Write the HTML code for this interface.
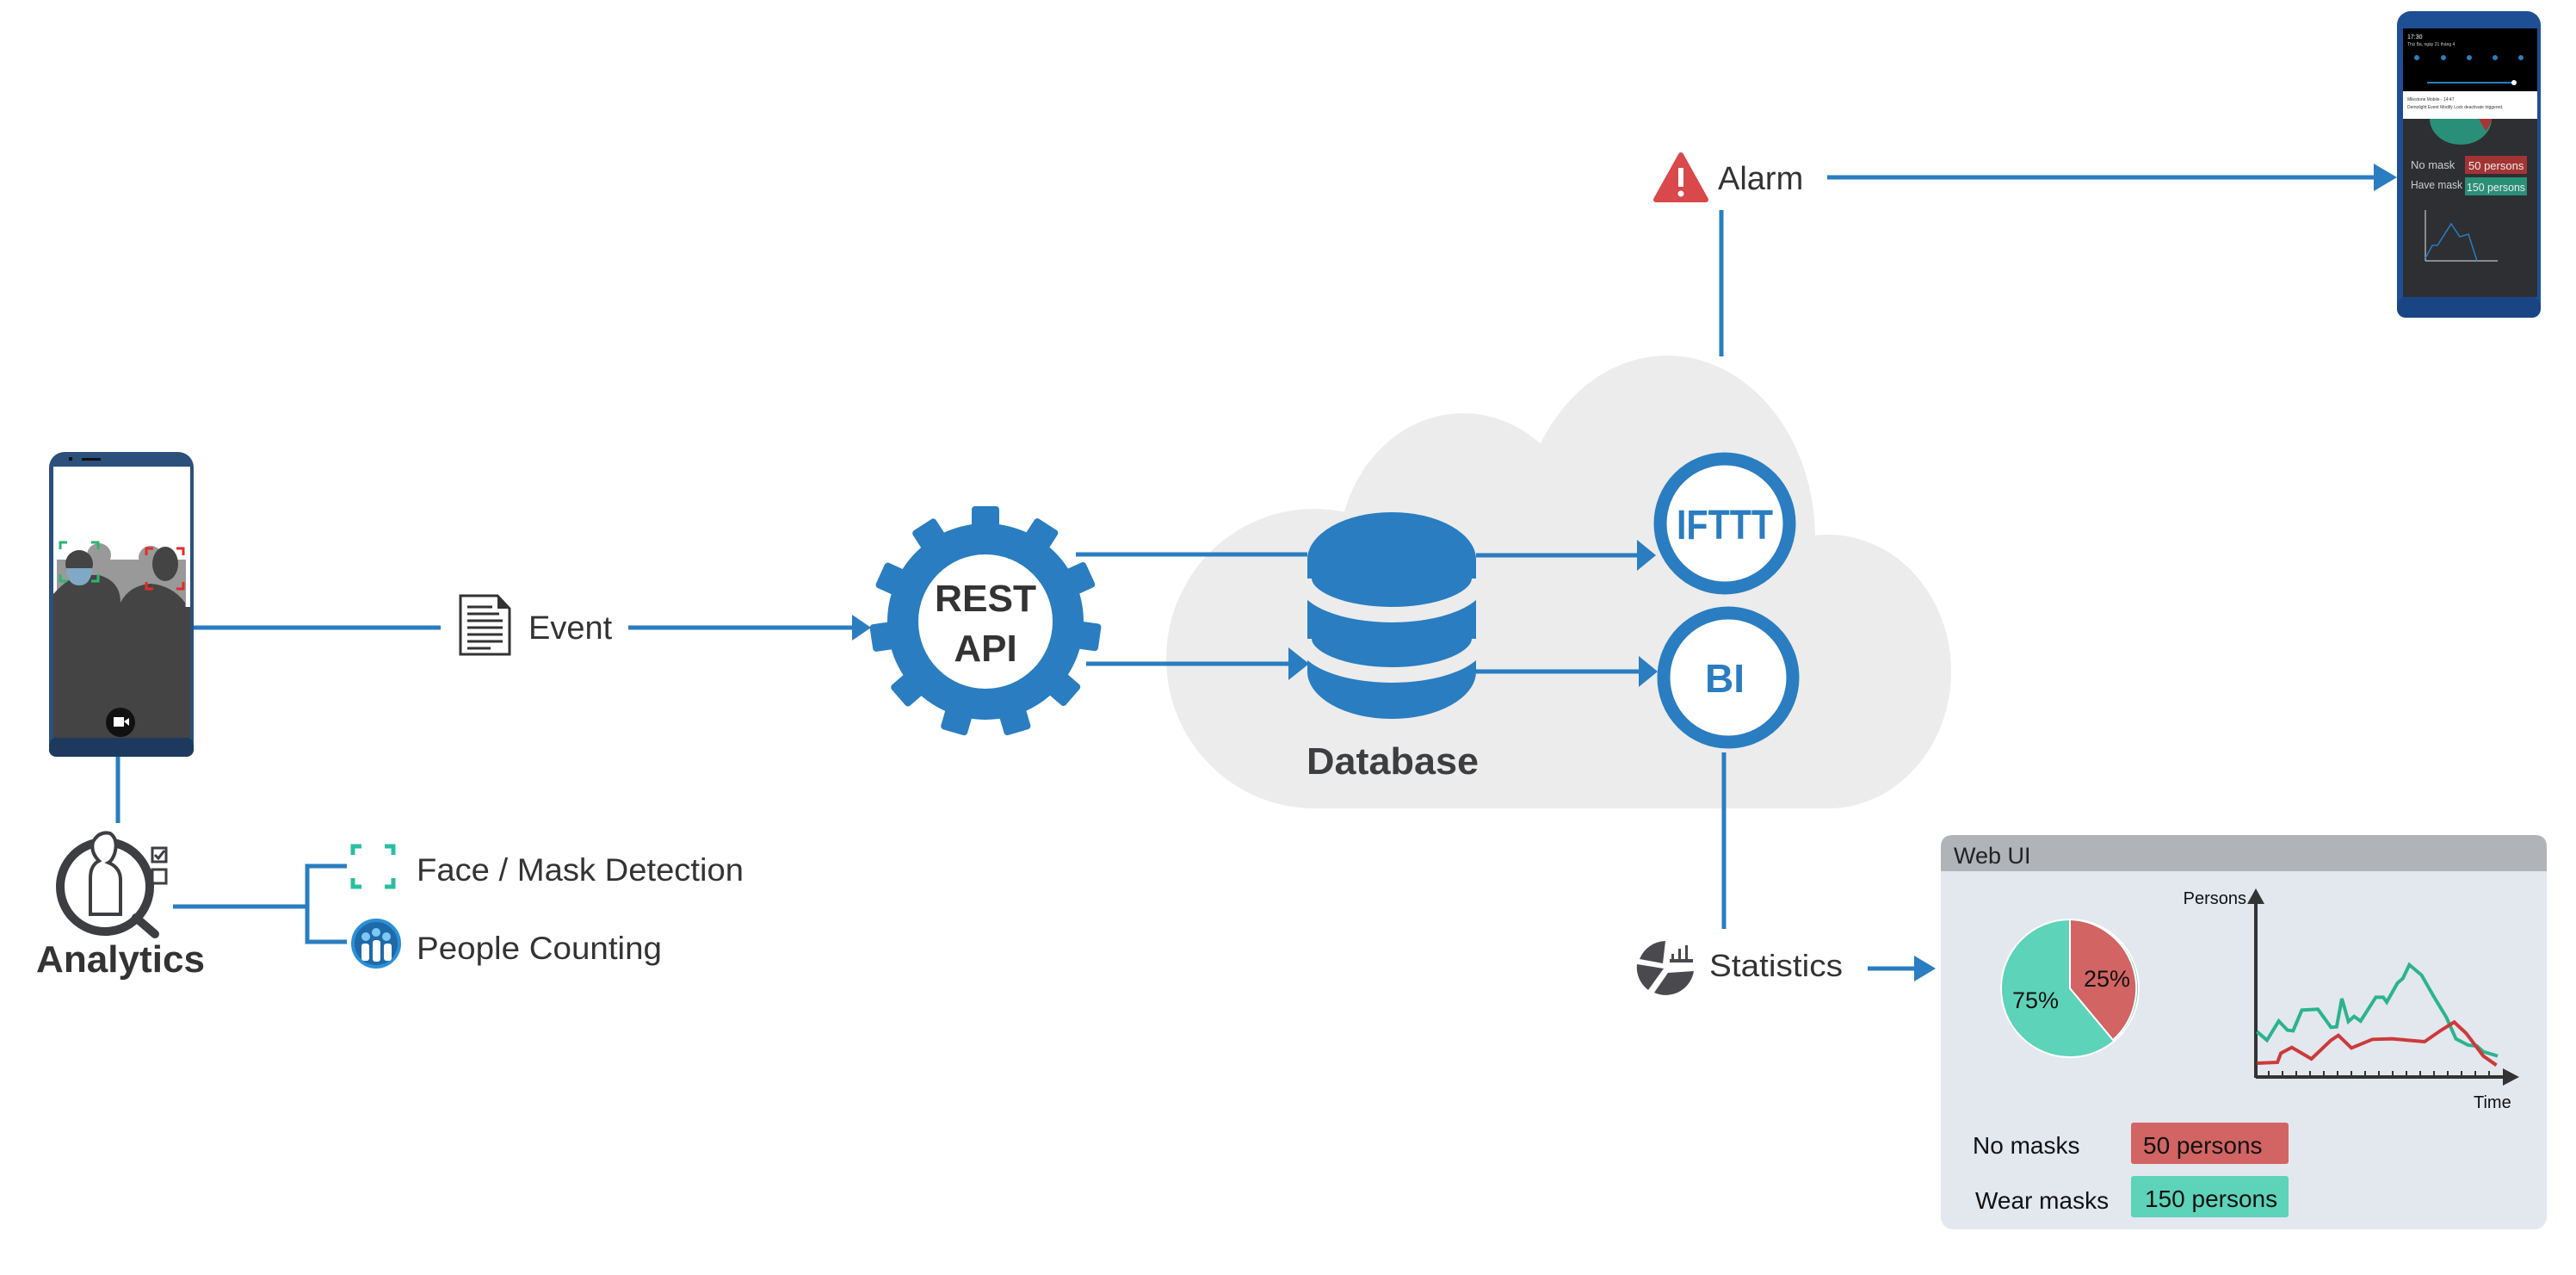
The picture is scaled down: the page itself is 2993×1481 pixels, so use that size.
<!DOCTYPE html>
<html><head><meta charset="utf-8"><style>
html,body{margin:0;padding:0;background:#fff;}
svg{display:block;}
text{font-family:"Liberation Sans",sans-serif;}
</style></head><body>
<svg width="2993" height="1481" viewBox="0 0 2993 1481" xmlns="http://www.w3.org/2000/svg">
<g fill="#ececec">
<ellipse cx="1527" cy="765" rx="172" ry="174"/>
<ellipse cx="1700" cy="645" rx="145" ry="165"/>
<ellipse cx="1937" cy="625" rx="172" ry="212"/>
<ellipse cx="2124" cy="780" rx="143" ry="159"/>
<rect x="1527" y="640" width="597" height="299"/>
</g>
<g stroke="#2a7dc0" stroke-width="5" fill="none">
<line x1="225" y1="729" x2="512" y2="729"/>
<line x1="730" y1="729" x2="1000" y2="729"/>
<line x1="137" y1="879" x2="137" y2="956"/>
<line x1="201" y1="1053" x2="357" y2="1053"/>
<polyline points="403,1006 357,1006 357,1094 403,1094"/>
<line x1="1250" y1="644" x2="1519" y2="644"/>
<line x1="1262" y1="771" x2="1500" y2="771"/>
<line x1="1715" y1="645" x2="1905" y2="645"/>
<line x1="1715" y1="780" x2="1905" y2="780"/>
<line x1="2000" y1="244" x2="2000" y2="414"/>
<line x1="2123" y1="206" x2="2765" y2="206"/>
<line x1="2003" y1="874" x2="2003" y2="1079"/>
<line x1="2170" y1="1125" x2="2230" y2="1125"/>
</g>
<g fill="#2a7dc0">
<polygon points="1012,729 990,714 990,744"/>
<polygon points="1521,771 1497,752 1497,790"/>
<polygon points="1924,645 1902,627 1902,663"/>
<polygon points="1926,780 1904,762 1904,798"/>
<polygon points="2785,206 2758,190 2758,222"/>
<polygon points="2249,1125 2224,1110 2224,1140"/>
</g>
<g transform="translate(1145,722)" fill="#2a7dc0">
<circle r="114"/>
<g>
<rect x="-16" y="-134" width="32" height="40" rx="4"/>
<rect x="-16" y="-134" width="32" height="40" rx="4" transform="rotate(32.7)"/>
<rect x="-16" y="-134" width="32" height="40" rx="4" transform="rotate(65.4)"/>
<rect x="-16" y="-134" width="32" height="40" rx="4" transform="rotate(98.1)"/>
<rect x="-16" y="-134" width="32" height="40" rx="4" transform="rotate(130.8)"/>
<rect x="-16" y="-134" width="32" height="40" rx="4" transform="rotate(163.5)"/>
<rect x="-16" y="-134" width="32" height="40" rx="4" transform="rotate(196.2)"/>
<rect x="-16" y="-134" width="32" height="40" rx="4" transform="rotate(228.9)"/>
<rect x="-16" y="-134" width="32" height="40" rx="4" transform="rotate(261.6)"/>
<rect x="-16" y="-134" width="32" height="40" rx="4" transform="rotate(294.3)"/>
<rect x="-16" y="-134" width="32" height="40" rx="4" transform="rotate(327)"/>
</g>
<circle r="78" fill="#fff"/>
<text x="0" y="-12" text-anchor="middle" font-size="44" font-weight="bold" fill="#333" textLength="118" lengthAdjust="spacingAndGlyphs">REST</text>
<text x="0" y="46" text-anchor="middle" font-size="44" font-weight="bold" fill="#333">API</text>
</g>
<g fill="#2a7dc0">
<ellipse cx="1617" cy="650" rx="98" ry="55"/>
<rect x="1519" y="650" width="196" height="130"/>
<ellipse cx="1617" cy="780" rx="98" ry="55"/>
</g>
<g stroke="#ececec" stroke-width="18" fill="none">
<path d="M1515,672 A102,42 0 0 0 1719,672"/>
<path d="M1515,742 A102,42 0 0 0 1719,742"/>
</g>
<text x="1618" y="899" text-anchor="middle" font-size="44" font-weight="bold" fill="#3d3e42" textLength="200" lengthAdjust="spacingAndGlyphs">Database</text>
<circle cx="2004" cy="608" r="75" fill="#fff" stroke="#2a7dc0" stroke-width="15"/>
<text x="2004" y="626" text-anchor="middle" font-size="48" font-weight="bold" fill="#2a7dc0" textLength="112" lengthAdjust="spacingAndGlyphs">IFTTT</text>
<circle cx="2008" cy="787" r="75" fill="#fff" stroke="#2a7dc0" stroke-width="15"/>
<text x="2004" y="804" text-anchor="middle" font-size="46" font-weight="bold" fill="#2a7dc0">BI</text>
<polygon points="1953,180 1982,232 1924,232" fill="#d9484a" stroke="#d9484a" stroke-width="6" stroke-linejoin="round"/>
<rect x="1950" y="195" width="6" height="22" fill="#fff"/>
<circle cx="1953" cy="225" r="3.5" fill="#fff"/>
<text x="1996" y="220" font-size="38" fill="#333">Alarm</text>
<path d="M535,692 L578,692 L592,707 L592,760 L535,760 Z" fill="#fff" stroke="#333" stroke-width="3"/>
<path d="M578,692 L578,707 L592,707 Z" fill="#333"/>
<g stroke="#333" stroke-width="3"><line x1="543" y1="705" x2="572" y2="705"/><line x1="543" y1="713" x2="580" y2="713"/><line x1="543" y1="721" x2="584" y2="721"/><line x1="543" y1="729" x2="584" y2="729"/><line x1="543" y1="737" x2="584" y2="737"/><line x1="543" y1="745" x2="584" y2="745"/><line x1="543" y1="753" x2="570" y2="753"/></g>
<text x="614" y="742" font-size="38" fill="#333">Event</text>
<rect x="57" y="525" width="168" height="354" rx="18" fill="#2c4f7c"/>
<rect x="62" y="542" width="159" height="315" fill="#fff"/>
<g fill="#999">
<circle cx="115" cy="645" r="14"/><circle cx="175" cy="648" r="14"/>
<rect x="66" y="650" width="150" height="60"/>
</g>
<rect x="62" y="705" width="159" height="152" fill="#444"/>
<path d="M62,690 Q80,670 95,668 L115,668 Q140,675 140,700 L140,857 L62,857 Z" fill="#444"/>
<path d="M140,700 Q150,680 175,678 Q200,680 215,700 L221,857 L140,857 Z" fill="#444"/>
<circle cx="92" cy="655" r="16" fill="#444"/><path d="M77,660 L107,660 Q106,680 92,680 Q78,680 77,660Z" fill="#7fa9c4"/>
<ellipse cx="192" cy="655" rx="15" ry="20" fill="#444"/>
<g fill="none" stroke-width="3"><path d="M70,638 v-8 h8 M106,630 h8 v8 M70,667 v8 h8 M106,675 h8 v-8" stroke="#2bb673"/><path d="M170,645 v-8 h8 M205,637 h8 v8 M170,676 v8 h8 M205,684 h8 v-8" stroke="#e62a2a"/></g>
<rect x="57" y="857" width="168" height="22" rx="8" fill="#1d3a5e"/>
<circle cx="140" cy="839" r="17" fill="#111"/><rect x="132" y="833" width="12" height="11" fill="#fff"/><polygon points="144,838 150,834 150,843" fill="#fff"/>
<rect x="80" y="531" width="4" height="4" fill="#111"/><rect x="95" y="532" width="22" height="3" fill="#111"/>
<circle cx="122" cy="1030" r="52" fill="none" stroke="#3d3e42" stroke-width="10"/>
<line x1="158" y1="1066" x2="180" y2="1085" stroke="#3d3e42" stroke-width="10" stroke-linecap="round"/>
<path d="M105,1062 L105,1020 Q105,1005 115,1000 Q105,990 108,978 Q115,965 128,968 Q138,975 133,992 Q130,1000 126,1002 Q140,1008 140,1022 L140,1062 Z" fill="#fff" stroke="#3d3e42" stroke-width="4"/>
<rect x="177" y="985" width="16" height="16" fill="none" stroke="#3d3e42" stroke-width="3"/><path d="M180,993 l4,4 l7,-9" stroke="#3d3e42" stroke-width="3" fill="none"/>
<rect x="177" y="1010" width="16" height="16" fill="none" stroke="#3d3e42" stroke-width="3"/>
<text x="140" y="1129" text-anchor="middle" font-size="44" font-weight="bold" fill="#333" textLength="196" lengthAdjust="spacingAndGlyphs">Analytics</text>
<path d="M410,993 v-10 h10 M447,983 h10 v10 M410,1020 v10 h10 M447,1030 h10 v-10" fill="none" stroke="#2bbf9f" stroke-width="5"/>
<text x="484" y="1023" font-size="37" fill="#333" textLength="380" lengthAdjust="spacingAndGlyphs">Face / Mask Detection</text>
<circle cx="437" cy="1096" r="27" fill="#1e6aa8" stroke="#2a8fd6" stroke-width="4"/>
<g fill="#7fc8f5"><circle cx="425" cy="1088" r="5"/><circle cx="437" cy="1083" r="5"/><circle cx="449" cy="1088" r="5"/></g>
<g fill="#fff"><rect x="420" y="1096" width="9" height="20" rx="3"/><rect x="433" y="1092" width="9" height="25" rx="3"/><rect x="446" y="1096" width="9" height="20" rx="3"/></g>
<text x="484" y="1114" font-size="37" fill="#333" textLength="285" lengthAdjust="spacingAndGlyphs">People Counting</text>
<path d="M1933,1125 L1902,1120 A33,33 0 0 0 1915,1150 Z" fill="#4a4a4e"/>
<path d="M1938,1130 L1922,1153 A33,33 0 0 0 1968,1128 Z" fill="#4a4a4e"/>
<path d="M1932,1119 L1905,1114 A33,33 0 0 1 1935,1093 Z" fill="#4a4a4e"/>
<g fill="#4a4a4e"><rect x="1942" y="1108" width="3" height="8"/><rect x="1950" y="1102" width="3" height="14"/><rect x="1958" y="1098" width="3" height="18"/><rect x="1940" y="1114" width="27" height="4"/></g>
<text x="1986" y="1134" font-size="36" fill="#333" textLength="155" lengthAdjust="spacingAndGlyphs">Statistics</text>
<rect x="2255" y="970" width="704" height="458" rx="14" fill="#e3e7ee"/>
<path d="M2255,1012 L2255,984 Q2255,970 2269,970 L2945,970 Q2959,970 2959,984 L2959,1012 Z" fill="#b0b3b8"/>
<text x="2270" y="1003" font-size="27" fill="#222">Web UI</text>
<circle cx="2405" cy="1148" r="80" fill="#5dd3b9" stroke="#fff" stroke-width="2"/>
<path d="M2405,1148 L2405,1068 A80,80 0 0 1 2455,1208 Z" fill="#d26464" stroke="#fff" stroke-width="2"/>
<text x="2448" y="1146" text-anchor="middle" font-size="27" fill="#111">25%</text>
<text x="2365" y="1171" text-anchor="middle" font-size="27" fill="#111">75%</text>
<g stroke="#333" stroke-width="4" fill="none"><line x1="2621" y1="1046" x2="2621" y2="1252"/><line x1="2621" y1="1251" x2="2910" y2="1251"/></g>
<polygon points="2621,1032 2611,1050 2631,1050" fill="#333"/>
<polygon points="2927,1251 2908,1241 2908,1261" fill="#333"/>
<g stroke="#333" stroke-width="2"><line x1="2636" y1="1244" x2="2636" y2="1251"/><line x1="2652" y1="1244" x2="2652" y2="1251"/><line x1="2668" y1="1244" x2="2668" y2="1251"/><line x1="2684" y1="1244" x2="2684" y2="1251"/><line x1="2700" y1="1244" x2="2700" y2="1251"/><line x1="2716" y1="1244" x2="2716" y2="1251"/><line x1="2732" y1="1244" x2="2732" y2="1251"/><line x1="2748" y1="1244" x2="2748" y2="1251"/><line x1="2764" y1="1244" x2="2764" y2="1251"/><line x1="2780" y1="1244" x2="2780" y2="1251"/><line x1="2796" y1="1244" x2="2796" y2="1251"/><line x1="2812" y1="1244" x2="2812" y2="1251"/><line x1="2828" y1="1244" x2="2828" y2="1251"/><line x1="2844" y1="1244" x2="2844" y2="1251"/><line x1="2860" y1="1244" x2="2860" y2="1251"/><line x1="2876" y1="1244" x2="2876" y2="1251"/><line x1="2892" y1="1244" x2="2892" y2="1251"/></g>
<g transform="translate(2200,960) scale(0.5058,0.3333)" fill="none">
<polyline vector-effect="non-scaling-stroke" stroke="#2bb38f" stroke-width="4" points="835,715 858,745 885,678 905,710 918,712 938,640 975,637 1005,700 1018,698 1030,600 1045,680 1058,662 1073,678 1108,595 1125,595 1133,612 1158,545 1170,530 1185,482 1213,518 1240,590 1270,665 1292,740 1320,762 1340,765 1355,785 1388,800"/>
<polyline vector-effect="non-scaling-stroke" stroke="#cc3a3a" stroke-width="4" points="835,825 882,822 890,790 915,770 960,810 1005,745 1022,728 1052,772 1100,742 1145,740 1220,750 1258,710 1288,682 1315,720 1355,800 1385,832"/>
</g>
<text x="2610" y="1050" text-anchor="end" font-size="20" fill="#111">Persons</text>
<text x="2874" y="1287" font-size="20" fill="#111">Time</text>
<text x="2292" y="1340" font-size="28" fill="#111">No masks</text>
<rect x="2476" y="1304" width="183" height="48" rx="3" fill="#d26464"/>
<text x="2490" y="1340" font-size="28" fill="#111">50 persons</text>
<text x="2295" y="1404" font-size="28" fill="#111">Wear masks</text>
<rect x="2476" y="1366" width="183" height="48" rx="3" fill="#5dd3b9"/>
<text x="2492" y="1402" font-size="28" fill="#111">150 persons</text>
<rect x="2785" y="13" width="167" height="356" rx="16" fill="#1e4f94"/>
<rect x="2792" y="33" width="156" height="312" fill="#2d2f33"/>
<rect x="2792" y="33" width="156" height="73" fill="#000"/>
<rect x="2792" y="106" width="156" height="32" fill="#fff"/>
<text x="2797" y="45" font-size="7" fill="#fff">17:30</text>
<text x="2797" y="53" font-size="5" fill="#ccc">Thứ Ba, ngày 21 tháng 4</text>
<g fill="#2a7dc0"><circle cx="2808" cy="67" r="3"/><circle cx="2839" cy="67" r="3"/><circle cx="2869" cy="67" r="3"/><circle cx="2899" cy="67" r="3"/><circle cx="2929" cy="67" r="3"/></g>
<line x1="2820" y1="96" x2="2920" y2="96" stroke="#2a7dc0" stroke-width="2"/><circle cx="2921" cy="96" r="3" fill="#fff"/>
<text x="2797" y="117" font-size="5" fill="#333">Milestone Mobile · 14:47</text>
<text x="2797" y="126" font-size="5" fill="#333">Demolight Event Modify Lock deactivate triggered.</text>
<path d="M2823,138 A36,30 0 0 0 2895,138 Z" fill="#2a8f78"/>
<path d="M2880,138 L2895,138 A36,30 0 0 1 2888,152 Z" fill="#a33"/>
<text x="2801" y="196" font-size="13" fill="#ccc">No mask</text>
<rect x="2864" y="181" width="72" height="21" fill="#a33434"/>
<text x="2868" y="197" font-size="13" fill="#eee">50 persons</text>
<text x="2801" y="219" font-size="13" fill="#ccc" textLength="60" lengthAdjust="spacingAndGlyphs">Have mask</text>
<rect x="2864" y="206" width="72" height="21" fill="#2a8f78"/>
<text x="2866" y="222" font-size="13" fill="#eee" textLength="68" lengthAdjust="spacingAndGlyphs">150 persons</text>
<g stroke="#aaa" stroke-width="1.5" fill="none"><line x1="2818" y1="244" x2="2818" y2="303"/><line x1="2818" y1="303" x2="2902" y2="303"/></g>
<polyline points="2818,300 2826,285 2832,285 2848,260 2858,275 2868,272 2878,303" fill="none" stroke="#2a7dc0" stroke-width="1.5"/>
<rect x="2785" y="345" width="167" height="24" rx="10" fill="#1a4585"/>
</svg>
</body></html>
